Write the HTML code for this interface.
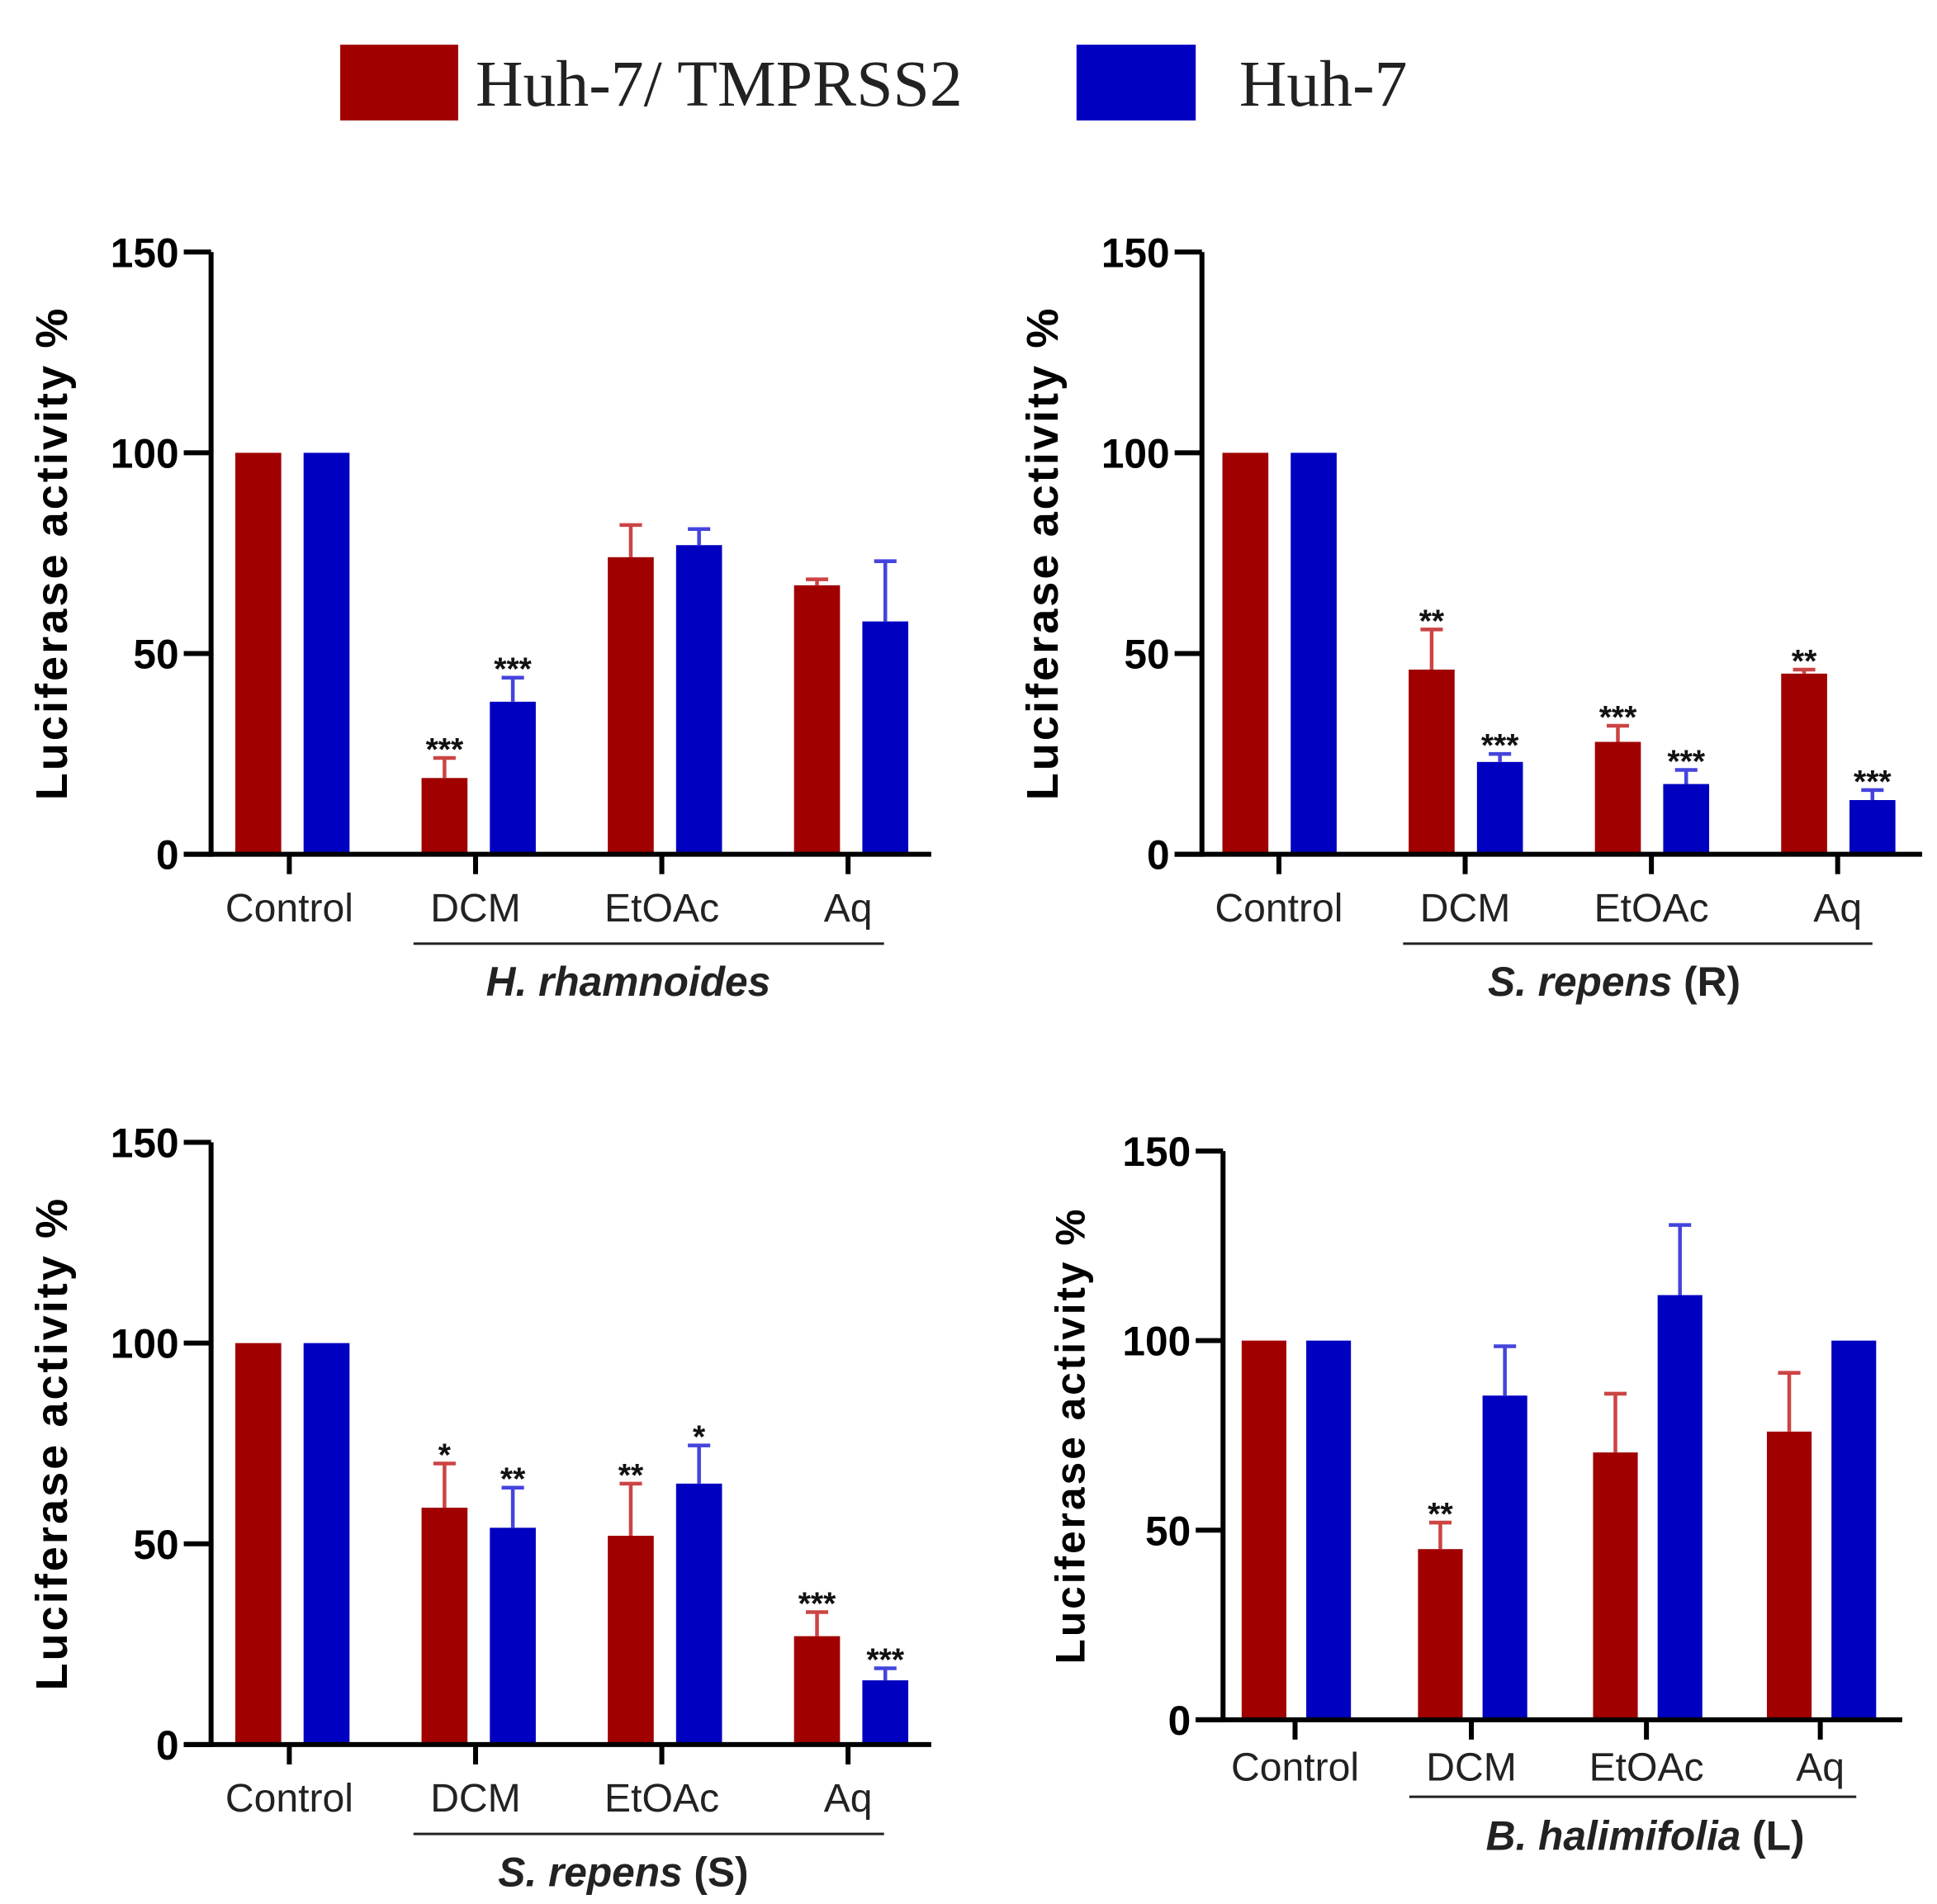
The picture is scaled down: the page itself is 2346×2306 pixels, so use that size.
<!DOCTYPE html>
<html><head><meta charset="utf-8"><style>
html,body{margin:0;padding:0;background:#fff;}
svg{display:block;}
.tl{font-family:"Liberation Sans",sans-serif;font-weight:bold;font-size:33px;fill:#000;}
.cl{font-family:"Liberation Sans",sans-serif;font-size:32px;fill:#222;}
.st{font-family:"Liberation Sans",sans-serif;font-size:26px;font-weight:bold;fill:#111;}
</style></head><body>
<svg id="fig" width="2346" height="2306" viewBox="0 0 1560 1533.4" xmlns="http://www.w3.org/2000/svg">
<g>
<rect x="274" y="36" width="95" height="61" fill="#a00000"/>
<text x="383" y="85" font-family="Liberation Serif,serif" font-size="53" fill="#222">Huh-7/ TMPRSS2</text>
<rect x="867" y="36" width="96" height="61" fill="#0000c0"/>
<text x="998" y="85" font-family="Liberation Serif,serif" font-size="53" fill="#222">Huh-7</text>
</g>
</svg>
<script>
const categories=["Control","DCM","EtOAc","Aq"];
const p1Red=[100,19,74,67], p1RedErr=[0,5,8,1.5], p1Blue=[100,38,77,58], p1BlueErr=[0,6,4,15];
const p1RedStars=["","***","",""], p1BlueStars=["","***","",""];
const p2Red=[100,46,28,45], p2RedErr=[0,10,4,1], p2Blue=[100,23,17.5,13.5], p2BlueErr=[0,2,3.5,2.5];
const p2RedStars=["","**","***","**"], p2BlueStars=["","***","***","***"];
const p3Red=[100,59,52,27], p3RedErr=[0,11,13,6], p3Blue=[100,54,65,16], p3BlueErr=[0,10,9.5,3];
const p3RedStars=["","*","**","***"], p3BlueStars=["","**","*","***"];
const p4Red=[100,45,70.5,76], p4RedErr=[0,7,15.5,15.5], p4Blue=[100,85.5,112,100], p4BlueErr=[0,13,18.5,0];
const p4RedStars=["","**","",""], p4BlueStars=["","","",""];
const yTicks=[0,50,100,150];

const NS="http://www.w3.org/2000/svg";
const svg=document.getElementById('fig');
function mk(tag,attrs,parent,txt){const e=document.createElementNS(NS,tag);for(const k in attrs)e.setAttribute(k,attrs[k]);if(txt!==undefined)e.textContent=txt;parent.appendChild(e);return e;}

const panels=[
 {id:"h-rhamnoides",ax:170,y0:688,y150:203,xEnd:750,ticks:[233,383,533,683],redOff:-25,blueOff:30,bw:37,lineX:[333,712],lineY:760,catY:742,subY:802,sub:[["H. rhamnoides",true]],subX:506,ylx:42,lfs:36,red:p1Red,redE:p1RedErr,blue:p1Blue,blueE:p1BlueErr,rs:p1RedStars,bs:p1BlueStars},
 {id:"s-repens-r",ax:968,y0:688,y150:203,xEnd:1548,ticks:[1030,1180,1330,1480],redOff:-27,blueOff:28,bw:37,lineX:[1130,1508],lineY:760,catY:742,subY:802,sub:[["S. repens",true],[" (R)",false]],subX:1300,ylx:840,lfs:36,red:p2Red,redE:p2RedErr,blue:p2Blue,blueE:p2BlueErr,rs:p2RedStars,bs:p2BlueStars},
 {id:"s-repens-s",ax:170,y0:1405,y150:920,xEnd:750,ticks:[233,383,533,683],redOff:-25,blueOff:30,bw:37,lineX:[333,712],lineY:1477,catY:1459,subY:1519,sub:[["S. repens",true],[" (S)",false]],subX:502,ylx:42,lfs:36,red:p3Red,redE:p3RedErr,blue:p3Blue,blueE:p3BlueErr,rs:p3RedStars,bs:p3BlueStars},
 {id:"b-halimifolia-l",ax:985,y0:1385,y150:927,xEnd:1532,ticks:[1043,1185,1326,1466],redOff:-25,blueOff:27,bw:36,lineX:[1135,1495],lineY:1447,catY:1434,subY:1490,sub:[["B. halimifolia",true],[" (L)",false]],subX:1325,ylx:862,lfs:33,red:p4Red,redE:p4RedErr,blue:p4Blue,blueE:p4BlueErr,rs:p4RedStars,bs:p4BlueStars}
];

panels.forEach(p=>{
 const g=mk('g',{},svg);
 
 
 const y=v=>p.y0-(v/150)*(p.y0-p.y150);
 const series=[[p.red,p.redE,p.redOff,'#a00000','#c44','red',p.rs],[p.blue,p.blueE,p.blueOff,'#0000c0','#44d','blue',p.bs]];
 series.forEach(s=>{
  s[0].forEach((v,i)=>{
   const cx=p.ticks[i]+s[2];
   const r=mk('rect',{x:cx-p.bw/2,y:y(v),width:p.bw,height:p.y0-y(v),fill:s[3]},g);
   
   
   let top=y(v);
   if(s[1][i]>0){
    const ye=y(v+s[1][i]);
    const eb=mk('path',{d:`M${cx} ${y(v)}V${ye}M${cx-9} ${ye}H${cx+9}`,stroke:s[4],'stroke-width':3,fill:'none'},g);
    
    
    top=ye;
   }
   if(s[6][i]){
    const t=mk('text',{x:cx,y:top+2,'text-anchor':'middle',class:'st'},g,s[6][i]);
    
    
   }
  });
 });
 const ya=mk('line',{x1:p.ax,y1:p.y150,x2:p.ax,y2:p.y0+2,stroke:'#000','stroke-width':4},g);
 
 
 const xa=mk('line',{x1:p.ax-22,y1:p.y0,x2:p.xEnd,y2:p.y0,stroke:'#000','stroke-width':4},g);
 
 
 yTicks.forEach(t=>{
  mk('line',{x1:p.ax-22,y1:y(t),x2:p.ax,y2:y(t),stroke:'#000','stroke-width':4},g);
  const tl=mk('text',{x:p.ax-26,y:y(t)+12,'text-anchor':'end',class:'tl'},g,String(t));
  
  
 });
 categories.forEach((c,i)=>{
  mk('line',{x1:p.ticks[i],y1:p.y0,x2:p.ticks[i],y2:p.y0+16,stroke:'#000','stroke-width':4},g);
  const cl=mk('text',{x:p.ticks[i],y:p.catY,'text-anchor':'middle',class:'cl'},g,c);
  
  
 });
 const gl=mk('line',{x1:p.lineX[0],y1:p.lineY,x2:p.lineX[1],y2:p.lineY,stroke:'#222','stroke-width':2},g);
 
 
 const sub=mk('text',{x:p.subX,y:p.subY,'text-anchor':'middle','font-family':'Liberation Sans,sans-serif','font-size':33,'font-weight':'bold',fill:'#222'},g);
 
 
 p.sub.forEach(([t,it])=>{mk('tspan',it?{'font-style':'italic'}:{},sub,t);});
 const ymid=(p.y0+p.y150)/2;
 const yl=mk('text',{x:p.ylx,y:ymid,transform:`rotate(-90 ${p.ylx} ${ymid})`,'text-anchor':'middle','dominant-baseline':'central','font-family':'Liberation Sans,sans-serif','font-weight':'bold','font-size':p.lfs,'letter-spacing':'2',fill:'#000'},g,'Luciferase activity %');
 
 
});
</script>
</body></html>
